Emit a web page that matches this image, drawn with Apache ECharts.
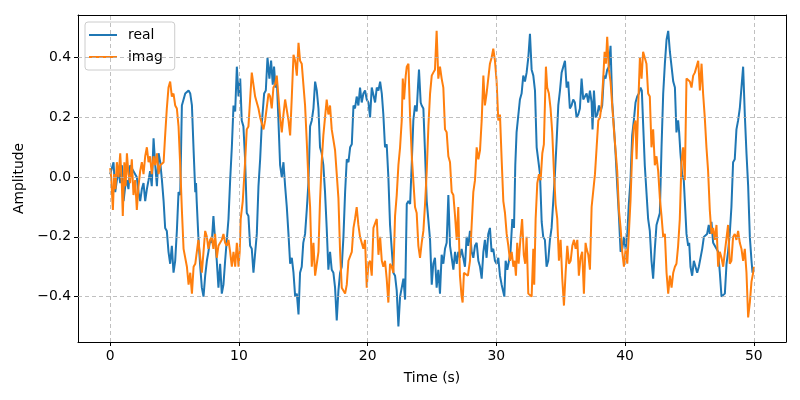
<!DOCTYPE html>
<html><head><meta charset="utf-8">
<script src="https://cdn.jsdelivr.net/npm/echarts@6/dist/echarts.min.js"></script>
<style>html,body{margin:0;padding:0;background:#fff}#c{width:800px;height:400px}</style>
</head><body><div id="c"></div>
<script>
const xTicks = [0, 10, 20, 30, 40, 50];
const yTicks = [-0.4, -0.2, 0.0, 0.2, 0.4];

const realTime = [0.0,0.13,0.26,0.39,0.52,0.65,0.78,0.91,1.04,1.17,1.30,1.42,1.55,1.68,1.81,1.94,2.07,2.20,2.33,2.46,2.59,2.72,2.85,2.98,3.10,3.23,3.37,3.50,3.63,3.76,3.89,4.02,4.15,4.27,4.40,4.53,4.66,4.79,4.92,5.05,5.18,5.31,5.44,5.57,5.70,5.83,6.09,6.22,6.35,6.48,6.61,6.67,6.72,6.85,6.98,7.12,7.25,7.38,7.51,7.63,7.76,7.89,8.02,8.15,8.28,8.41,8.54,8.67,8.80,8.93,9.06,9.19,9.32,9.45,9.58,9.71,9.84,9.97,10.10,10.22,10.35,10.48,10.61,10.74,10.87,11.00,11.13,11.26,11.39,11.52,11.65,11.78,11.96,12.09,12.22,12.37,12.50,12.63,12.73,12.84,12.94,13.07,13.20,13.33,13.46,13.59,13.72,13.85,13.98,14.11,14.24,14.37,14.50,14.63,14.75,14.88,15.00,15.14,15.27,15.40,15.53,15.66,15.79,15.92,16.05,16.18,16.30,16.43,16.56,16.69,16.82,16.95,17.08,17.21,17.34,17.47,17.60,17.73,17.86,17.99,18.12,18.25,18.38,18.51,18.64,18.77,18.90,19.02,19.15,19.28,19.41,19.54,19.67,19.80,19.93,20.06,20.19,20.32,20.45,20.58,20.71,20.84,20.97,21.10,21.22,21.35,21.48,21.61,21.74,21.87,22.00,22.13,22.26,22.39,22.52,22.65,22.78,22.91,23.04,23.17,23.30,23.43,23.55,23.68,23.81,23.92,23.99,24.12,24.20,24.33,24.46,24.59,24.72,24.85,24.98,25.10,25.23,25.36,25.49,25.62,25.75,25.88,26.01,26.14,26.27,26.40,26.53,26.66,26.79,26.92,27.04,27.17,27.30,27.43,27.56,27.69,27.82,27.95,28.08,28.21,28.34,28.47,28.60,28.73,28.86,28.99,29.11,29.24,29.37,29.50,29.63,29.76,29.89,30.02,30.15,30.28,30.41,30.54,30.62,30.72,30.85,30.98,31.10,31.24,31.37,31.47,31.57,31.70,31.83,31.96,32.09,32.22,32.35,32.48,32.61,32.74,32.87,33.00,33.13,33.26,33.39,33.52,33.64,33.77,33.90,34.03,34.16,34.29,34.42,34.55,34.68,34.81,34.94,35.07,35.20,35.33,35.46,35.58,35.71,35.84,35.97,36.10,36.23,36.36,36.49,36.62,36.75,36.88,37.01,37.14,37.27,37.40,37.47,37.58,37.71,37.84,37.97,38.10,38.22,38.35,38.48,38.61,38.74,38.87,39.00,39.13,39.26,39.39,39.52,39.65,39.78,39.91,40.04,40.17,40.29,40.42,40.55,40.68,40.81,40.94,41.07,41.20,41.30,41.40,41.53,41.66,41.79,41.92,42.05,42.18,42.31,42.44,42.57,42.70,42.83,42.96,43.09,43.22,43.35,43.48,43.61,43.74,43.87,43.99,44.12,44.20,44.30,44.43,44.56,44.64,44.77,44.90,44.98,45.08,45.21,45.34,45.47,45.60,45.73,45.86,45.99,46.12,46.25,46.37,46.50,46.58,46.71,46.84,46.97,47.10,47.23,47.36,47.49,47.62,47.75,47.88,48.00,48.13,48.26,48.39,48.52,48.65,48.78,48.91,49.04,49.17,49.30,49.43,49.56,49.69,49.82,49.90,50.00];
const realAmp = [0.01,0.03,0.05,-0.05,-0.01,0.02,-0.02,0.04,-0.08,-0.03,-0.01,-0.04,0.04,0.03,0.02,0.02,0.00,-0.05,-0.08,-0.04,-0.02,-0.08,-0.04,-0.01,0.02,-0.03,0.13,0.04,-0.03,0.08,0.05,-0.01,-0.08,-0.17,-0.18,-0.25,-0.29,-0.23,-0.32,-0.28,-0.18,-0.05,-0.06,0.24,0.24,0.28,0.29,0.28,0.24,0.09,-0.05,-0.02,-0.08,-0.20,-0.29,-0.37,-0.40,-0.33,-0.28,-0.25,-0.21,-0.22,-0.13,-0.21,-0.28,-0.37,-0.29,-0.39,-0.36,-0.28,-0.21,-0.14,-0.01,0.10,0.24,0.22,0.37,0.27,0.33,0.19,0.17,0.06,-0.12,-0.13,-0.23,-0.24,-0.32,-0.32,-0.19,-0.03,0.06,0.18,0.28,0.29,0.40,0.33,0.39,0.31,0.37,0.30,0.33,0.19,0.04,0.00,0.05,-0.03,-0.10,-0.19,-0.29,-0.27,-0.32,-0.40,-0.39,-0.46,-0.32,-0.30,-0.22,-0.19,-0.11,-0.02,0.17,0.19,0.23,0.32,0.29,0.23,0.10,0.08,0.04,-0.05,-0.17,-0.31,-0.25,-0.31,-0.32,-0.37,-0.48,-0.38,-0.32,-0.30,-0.20,-0.05,0.06,0.05,0.10,0.11,0.24,0.23,0.27,0.24,0.30,0.25,0.28,0.29,0.26,0.25,0.20,0.30,0.30,0.25,0.30,0.29,0.32,0.28,0.21,0.10,0.11,0.00,-0.16,-0.16,-0.32,-0.33,-0.38,-0.50,-0.40,-0.40,-0.34,-0.41,-0.09,-0.08,-0.09,0.05,0.19,0.24,0.22,0.31,0.36,0.25,0.24,0.23,0.08,-0.08,-0.08,-0.21,-0.36,-0.29,-0.27,-0.37,-0.31,-0.39,-0.26,-0.29,-0.24,-0.22,-0.06,-0.23,-0.23,-0.31,-0.25,-0.29,-0.25,-0.27,-0.24,-0.24,-0.30,-0.20,-0.23,-0.18,-0.25,-0.27,-0.23,-0.22,-0.28,-0.30,-0.34,-0.25,-0.21,-0.27,-0.19,-0.17,-0.25,-0.24,-0.28,-0.29,-0.27,-0.33,-0.36,-0.36,-0.40,-0.28,-0.31,-0.28,-0.25,-0.14,-0.17,0.04,0.15,0.15,0.26,0.28,0.34,0.32,0.35,0.40,0.48,0.36,0.34,0.29,0.10,0.10,0.01,-0.15,-0.20,-0.21,-0.30,-0.28,-0.21,-0.17,-0.08,0.01,0.12,0.24,0.29,0.35,0.35,0.39,0.30,0.32,0.23,0.24,0.26,0.25,0.20,0.21,0.23,0.33,0.26,0.27,0.28,0.25,0.29,0.25,0.16,0.29,0.20,0.21,0.24,0.22,0.24,0.34,0.33,0.36,0.37,0.44,0.25,0.17,0.08,-0.03,-0.13,-0.25,-0.24,-0.20,-0.24,-0.19,-0.09,-0.01,0.14,0.19,0.25,0.27,0.28,0.30,0.29,0.18,0.04,0.04,-0.14,-0.18,-0.28,-0.34,-0.24,-0.16,-0.14,-0.12,0.10,0.28,0.38,0.46,0.49,0.42,0.42,0.32,0.30,0.15,0.19,0.15,0.08,0.01,-0.01,-0.08,-0.19,-0.23,-0.22,-0.30,-0.33,-0.28,-0.28,-0.32,-0.30,-0.30,-0.24,-0.20,-0.20,-0.19,-0.16,-0.19,-0.15,-0.22,-0.23,-0.23,-0.25,-0.32,-0.40,-0.40,-0.39,-0.29,-0.25,-0.19,-0.10,0.05,0.06,0.16,0.19,0.23,0.30,0.37,0.21,0.08,-0.03,-0.20,-0.28,-0.32,-0.31];

const imagTime = [0.0,0.08,0.21,0.31,0.41,0.52,0.65,0.78,0.91,0.98,1.10,1.20,1.30,1.42,1.55,1.68,1.81,1.94,2.07,2.20,2.33,2.46,2.59,2.72,2.85,2.98,3.10,3.23,3.37,3.50,3.63,3.76,3.89,4.02,4.15,4.27,4.40,4.53,4.66,4.79,4.92,5.05,5.18,5.31,5.44,5.57,5.70,5.83,5.96,6.09,6.22,6.35,6.48,6.61,6.73,6.85,6.98,7.12,7.25,7.38,7.51,7.63,7.76,7.89,8.02,8.15,8.28,8.41,8.54,8.67,8.80,8.93,9.06,9.19,9.32,9.45,9.58,9.71,9.84,9.97,10.06,10.14,10.30,10.48,10.61,10.74,10.87,11.00,11.13,11.26,11.39,11.52,11.65,11.78,11.91,12.04,12.17,12.30,12.43,12.55,12.68,12.81,12.94,13.07,13.20,13.33,13.46,13.59,13.72,13.85,13.98,14.11,14.24,14.37,14.50,14.63,14.75,14.88,15.01,15.14,15.27,15.40,15.53,15.66,15.79,15.92,16.05,16.18,16.30,16.43,16.56,16.69,16.82,16.95,17.08,17.21,17.34,17.47,17.60,17.73,17.86,17.99,18.12,18.25,18.38,18.51,18.64,18.77,18.90,19.02,19.15,19.28,19.41,19.54,19.67,19.80,19.93,20.06,20.19,20.32,20.45,20.58,20.71,20.84,20.97,21.10,21.22,21.35,21.48,21.61,21.74,21.87,22.00,22.13,22.26,22.39,22.52,22.65,22.73,22.83,22.96,23.04,23.17,23.30,23.43,23.55,23.68,23.81,23.94,24.07,24.20,24.33,24.46,24.59,24.72,24.85,24.98,25.10,25.23,25.36,25.49,25.62,25.75,25.88,26.01,26.14,26.27,26.40,26.53,26.66,26.79,26.92,27.04,27.17,27.30,27.38,27.48,27.61,27.79,27.95,28.08,28.21,28.34,28.47,28.60,28.73,28.86,28.99,29.11,29.24,29.37,29.50,29.63,29.76,29.89,30.02,30.15,30.28,30.41,30.54,30.67,30.80,30.93,31.06,31.19,31.32,31.42,31.52,31.62,31.73,31.88,32.00,32.13,32.24,32.35,32.48,32.61,32.74,32.87,32.94,33.05,33.18,33.31,33.44,33.57,33.69,33.85,33.95,34.08,34.21,34.34,34.47,34.60,34.73,34.86,34.99,35.12,35.25,35.38,35.51,35.64,35.77,35.90,36.03,36.16,36.29,36.41,36.54,36.67,36.80,36.93,37.01,37.14,37.27,37.40,37.53,37.66,37.79,37.92,38.05,38.17,38.30,38.41,38.51,38.61,38.74,38.87,39.00,39.13,39.26,39.39,39.52,39.65,39.78,39.91,40.04,40.17,40.29,40.42,40.55,40.68,40.81,40.89,41.02,41.15,41.28,41.40,41.53,41.66,41.79,41.92,42.05,42.18,42.31,42.44,42.57,42.70,42.83,42.96,43.09,43.22,43.35,43.48,43.61,43.74,43.87,43.99,44.12,44.25,44.38,44.51,44.64,44.77,44.90,45.03,45.16,45.29,45.42,45.55,45.68,45.81,45.94,46.06,46.19,46.32,46.45,46.58,46.71,46.84,46.97,47.10,47.23,47.36,47.49,47.62,47.75,47.88,48.00,48.13,48.26,48.39,48.52,48.65,48.78,48.91,49.04,49.17,49.30,49.43,49.56,49.69,49.82,49.95,50.00];
const imagAmp = [0.03,0.00,-0.11,0.01,-0.04,0.05,0.00,0.08,-0.03,-0.13,0.05,-0.03,0.08,0.01,-0.02,0.06,-0.06,-0.01,-0.11,-0.03,0.02,0.05,0.01,0.07,0.10,0.05,0.07,0.01,0.07,0.04,0.08,0.01,0.04,0.04,0.05,0.14,0.23,0.30,0.32,0.27,0.28,0.24,0.23,0.17,0.04,-0.11,-0.24,-0.24,-0.30,-0.36,-0.32,-0.39,-0.30,-0.29,-0.29,-0.21,-0.21,-0.32,-0.25,-0.18,-0.20,-0.24,-0.21,-0.20,-0.24,-0.19,-0.27,-0.23,-0.23,-0.21,-0.19,-0.22,-0.23,-0.21,-0.25,-0.30,-0.25,-0.30,-0.22,-0.30,-0.25,-0.14,-0.08,0.05,0.16,0.17,0.26,0.35,0.35,0.27,0.27,0.23,0.20,0.18,0.16,0.19,0.19,0.28,0.27,0.23,0.30,0.31,0.34,0.27,0.20,0.15,0.21,0.26,0.26,0.19,0.14,0.27,0.41,0.39,0.34,0.45,0.39,0.38,0.31,0.24,0.12,-0.01,-0.10,-0.30,-0.22,-0.33,-0.29,-0.25,-0.08,0.05,0.14,0.20,0.26,0.21,0.24,0.16,0.16,0.09,0.01,-0.07,-0.25,-0.37,-0.37,-0.39,-0.36,-0.28,-0.28,-0.25,-0.17,-0.14,-0.10,-0.16,-0.20,-0.20,-0.24,-0.21,-0.37,-0.29,-0.28,-0.33,-0.17,-0.17,-0.14,-0.26,-0.20,-0.28,-0.30,-0.28,-0.34,-0.42,-0.29,-0.30,-0.32,-0.13,-0.06,0.04,0.10,0.19,0.33,0.26,0.34,0.37,0.38,0.20,0.07,0.07,-0.10,-0.12,-0.23,-0.27,-0.22,-0.18,-0.09,0.02,0.17,0.28,0.34,0.35,0.36,0.49,0.33,0.37,0.33,0.30,0.16,0.15,0.07,0.05,-0.05,-0.06,-0.13,-0.21,-0.10,-0.33,-0.40,-0.42,-0.32,-0.32,-0.33,-0.28,-0.16,-0.05,-0.01,0.10,0.06,0.09,0.19,0.34,0.24,0.28,0.33,0.38,0.40,0.43,0.39,0.32,0.19,0.21,0.06,-0.08,-0.12,-0.19,-0.23,-0.28,-0.25,-0.30,-0.28,-0.33,-0.22,-0.29,-0.20,-0.14,-0.26,-0.29,-0.20,-0.39,-0.39,-0.40,-0.24,-0.36,-0.14,-0.02,0.01,-0.01,0.08,0.11,0.37,0.30,0.28,0.23,0.15,0.02,-0.09,-0.14,-0.28,-0.21,-0.34,-0.43,-0.32,-0.23,-0.29,-0.28,-0.23,-0.21,-0.24,-0.21,-0.33,-0.27,-0.25,-0.39,-0.22,-0.24,-0.26,-0.31,-0.10,-0.10,0.01,0.10,0.19,0.20,0.24,0.33,0.42,0.38,0.47,0.36,0.32,0.24,0.16,0.09,0.02,-0.11,-0.17,-0.25,-0.30,-0.24,-0.29,-0.19,-0.08,0.08,0.17,0.19,0.06,0.24,0.40,0.33,0.42,0.42,0.38,0.28,0.27,0.10,0.16,0.04,0.07,0.02,-0.07,-0.13,-0.20,-0.19,-0.32,-0.39,-0.33,-0.37,-0.32,-0.30,-0.29,-0.23,-0.14,0.05,0.10,-0.01,0.33,0.33,0.32,0.30,0.34,0.35,0.35,0.39,0.29,0.38,0.28,0.20,0.10,0.02,-0.11,-0.19,-0.17,-0.21,-0.16,-0.30,-0.25,-0.27,-0.30,-0.25,-0.25,-0.16,-0.29,-0.28,-0.20,-0.19,-0.21,-0.18,-0.22,-0.24,-0.28,-0.24,-0.32,-0.47,-0.42,-0.35,-0.32,-0.30];

const zip = (t, v) => t.map((x, i) => [x, v[i]]);
const fontFamily = 'DejaVu Sans';
const fmtY = v => (v < 0 ? '\u2212' : '') + Math.abs(v).toFixed(1);

const chart = echarts.init(document.getElementById('c'), null, { renderer: 'canvas' });
chart.setOption({
  animation: false,
  backgroundColor: '#fff',
  textStyle: { fontFamily },
  grid: { left: 78, right: 14, top: 15, bottom: 58, containLabel: false },
  legend: {
    orient: 'vertical', left: 85, top: 22,
    data: ['real', 'imag'],
    icon: 'rect', itemWidth: 28, itemHeight: 2, itemGap: 8,
    padding: [6, 12, 6, 4],
    backgroundColor: 'rgba(255,255,255,0.8)', borderColor: '#cccccc', borderWidth: 1, borderRadius: 3,
    textStyle: { fontFamily, fontSize: 13.9, color: '#000', padding: [0, 0, 0, 6] }
  },
  xAxis: [{
    type: 'value', min: -2.5, max: 52.5,
    name: 'Time (s)', nameLocation: 'middle', nameGap: 29,
    nameTextStyle: { fontFamily, fontSize: 13.9, color: '#000' },
    axisLine: { show: true, onZero: false, lineStyle: { color: '#000', width: 1 } },
    axisTick: { show: true, length: 4, customValues: xTicks, lineStyle: { color: '#000' } },
    axisLabel: { customValues: xTicks, fontFamily, fontSize: 13.9, color: '#000', margin: 7 },
    splitLine: { show: false }
  }, {
    type: 'value', min: -2.5, max: 52.5, position: 'top',
    axisLine: { show: true, onZero: false, lineStyle: { color: '#000', width: 1 } },
    axisTick: { show: false }, axisLabel: { show: false }, splitLine: { show: false }
  }],
  yAxis: [{
    type: 'value', min: -0.552, max: 0.543,
    name: 'Amplitude', nameLocation: 'middle', nameGap: 50, nameRotate: 90,
    nameTextStyle: { fontFamily, fontSize: 13.9, color: '#000' },
    axisLine: { show: true, onZero: false, lineStyle: { color: '#000', width: 1 } },
    axisTick: { show: true, length: 4, customValues: yTicks, lineStyle: { color: '#000' } },
    axisLabel: { customValues: yTicks, formatter: fmtY, fontFamily, fontSize: 13.9, color: '#000', margin: 7 },
    splitLine: { show: false }
  }, {
    type: 'value', min: -0.552, max: 0.543, position: 'right',
    axisLine: { show: true, onZero: false, lineStyle: { color: '#000', width: 1 } },
    axisTick: { show: false }, axisLabel: { show: false }, splitLine: { show: false }
  }],
  series: [
    {
      name: 'real', type: 'line', data: zip(realTime, realAmp), showSymbol: false, symbol: 'none',
      color: '#1f77b4', lineStyle: { width: 2, color: '#1f77b4' }, z: 3,
      markLine: {
        silent: true, symbol: 'none', label: { show: false },
        lineStyle: { color: '#b0b0b0', width: 0.8, type: [4, 3] },
        data: xTicks.map(v => ({ xAxis: v })).concat(yTicks.map(v => ({ yAxis: v })))
      }
    },
    {
      name: 'imag', type: 'line', data: zip(imagTime, imagAmp), showSymbol: false, symbol: 'none',
      color: '#ff7f0e', lineStyle: { width: 2, color: '#ff7f0e' }, z: 4
    }
  ]
});
</script></body></html>
